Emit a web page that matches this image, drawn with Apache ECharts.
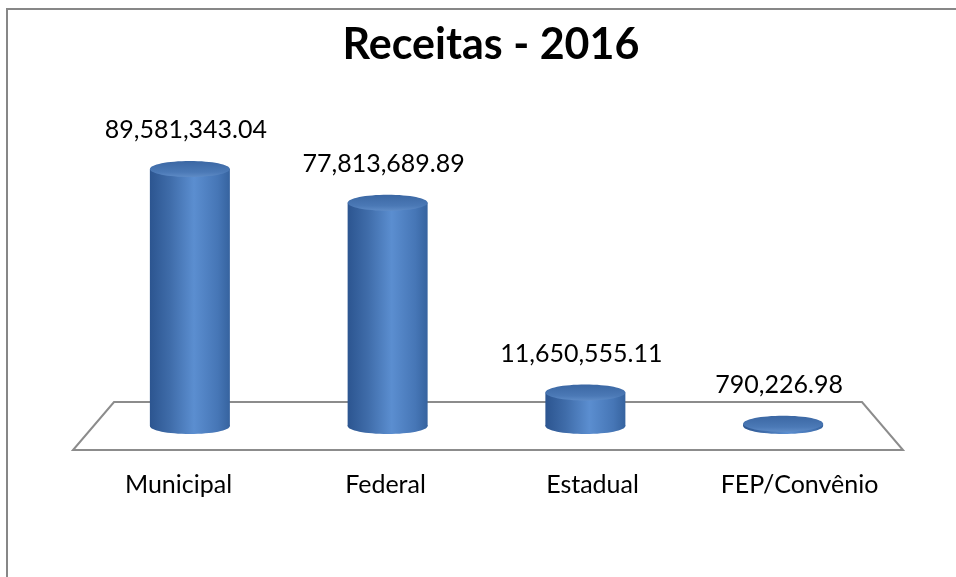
<!DOCTYPE html>
<html>
<head>
<meta charset="utf-8">
<script src="https://cdn.jsdelivr.net/npm/echarts@6/dist/echarts.min.js"></script>
<style>
  html, body { margin: 0; padding: 0; background: #ffffff; }
  #chart { width: 956px; height: 577px; }
</style>
</head>
<body>
<div id="chart"></div>
<script>
// Receitas por origem, 2016
const categories = ['Municipal', 'Federal', 'Estadual', 'FEP/Convênio'];
const receitas = [89581343.04, 77813689.89, 11650555.11, 790226.98];

const FONT = 'Lato, "Liberation Sans", sans-serif';

// 1234567.8 -> "1,234,567.80"
function formatValue(v) {
  const parts = v.toFixed(2).split('.');
  parts[0] = parts[0].replace(/\B(?=(\d{3})+(?!\d))/g, ',');
  return parts.join('.');
}

// Each bar is drawn as a shaded cylinder standing on the floor
function renderCylinder(params, api) {
  const idx = api.value(0);
  const val = api.value(1);
  const top = api.coord([idx, val]);
  const base = api.coord([idx, 0]);
  const cx = base[0];
  const rx = 40, ry = 8;
  const h = Math.max(base[1] - top[1], 0);

  const bodyFill = new echarts.graphic.LinearGradient(0, 0, 1, 0, [
    { offset: 0, color: '#2c5590' },
    { offset: 0.25, color: '#3f6ca9' },
    { offset: 0.55, color: '#5b8ed0' },
    { offset: 0.85, color: '#4676b6' },
    { offset: 1, color: '#36639f' }
  ]);
  const capFill = new echarts.graphic.LinearGradient(0, 0, 0, 1, [
    { offset: 0, color: '#3b67a3' },
    { offset: 0.7, color: '#4b79b6' },
    { offset: 1, color: '#5e8bc6' }
  ]);

  return {
    type: 'group',
    children: [
      { type: 'ellipse', shape: { cx: cx, cy: base[1], rx: rx, ry: ry }, style: { fill: bodyFill } },
      { type: 'rect', shape: { x: cx - rx, y: top[1], width: rx * 2, height: h }, style: { fill: bodyFill } },
      { type: 'ellipse', shape: { cx: cx, cy: top[1], rx: rx, ry: ry }, style: { fill: capFill } },
      {
        type: 'text',
        style: {
          x: cx - 4, y: top[1] - 39,
          text: formatValue(val),
          fill: '#000000',
          font: '25px ' + FONT,
          textAlign: 'center',
          textVerticalAlign: 'middle'
        }
      }
    ]
  };
}

const chart = echarts.init(document.getElementById('chart'), null, { renderer: 'canvas' });

chart.setOption({
  animation: false,
  backgroundColor: '#ffffff',
  title: {
    text: 'Receitas - 2016',
    left: 486,
    top: 19,
    textAlign: 'center',
    textStyle: { fontFamily: FONT, fontWeight: 'bold', fontSize: 43, color: '#000000' }
  },
  grid: [
    { left: 91, width: 791, top: 139, height: 287 },
    { left: 75, width: 828, top: 139, height: 287 }
  ],
  xAxis: [
    { type: 'category', gridIndex: 0, data: categories, show: false },
    {
      type: 'category', gridIndex: 1, data: categories,
      axisLine: { show: false }, axisTick: { show: false }, splitLine: { show: false },
      axisLabel: { margin: 46, fontFamily: FONT, fontSize: 25, color: '#000000' }
    }
  ],
  yAxis: [
    { type: 'value', gridIndex: 0, min: 0, max: 100000000, show: false },
    { type: 'value', gridIndex: 1, min: 0, max: 100000000, show: false }
  ],
  graphic: [
    // chart frame
    { type: 'polyline', z: 0, shape: { points: [[7, 577], [7, 9], [956, 9]] },
      style: { stroke: '#878787', lineWidth: 2, fill: null } },
    // floor
    { type: 'polygon', z: 0, shape: { points: [[114, 402], [862, 402], [903, 450], [73, 450]] },
      style: { stroke: '#8c8c8c', lineWidth: 2, fill: '#ffffff' } }
  ],
  series: [{
    type: 'custom',
    xAxisIndex: 0,
    yAxisIndex: 0,
    z: 5,
    renderItem: renderCylinder,
    data: receitas.map((v, i) => [i, v])
  }]
});
</script>
</body>
</html>
